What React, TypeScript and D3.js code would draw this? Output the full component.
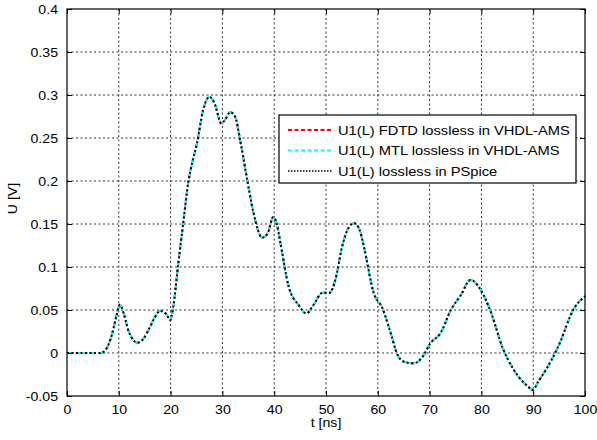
import React, { useEffect, useRef } from "react";
import * as d3 from "d3";

// time [ns] and voltage [V]
const tValues = [
  0, 6.5, 7.5, 8.7, 9.5, 10.2, 11, 11.8, 12.8, 13.6, 14.8, 16, 17, 18, 19.2, 19.9, 20.5, 21.5, 22.4, 23.4,
  24.2, 25.1, 26.3, 27.5, 28.5, 29.8, 30.6, 31.5, 32.5, 33.5, 34.8, 36, 37.7, 38.8, 39.8, 40.5, 41.2, 42.8,
  44.7, 46.2, 47.6, 49.3, 50.7, 51.8, 53.2, 54.3, 55.4, 56.5, 57.3, 59.2, 60.9, 62.5, 63.8, 65, 66.9, 68.7,
  70.1, 72.1, 74.1, 76, 77.9, 79.9, 81.8, 84.1, 86.3, 89, 89.9, 91, 92.8, 94.8, 97.9, 100,
];
const pspice = [
  0, 0, 0.004, 0.022, 0.042, 0.056, 0.045, 0.027, 0.015, 0.012, 0.017, 0.03, 0.042, 0.049, 0.045, 0.038,
  0.053, 0.105, 0.149, 0.198, 0.222, 0.244, 0.283, 0.298, 0.29, 0.267, 0.272, 0.28, 0.274, 0.245, 0.201,
  0.163, 0.134, 0.14, 0.158, 0.15, 0.128, 0.077, 0.056, 0.046, 0.056, 0.07, 0.07, 0.085, 0.126, 0.145,
  0.151, 0.143, 0.124, 0.07, 0.052, 0.023, -0.002, -0.01, -0.012, -0.004, 0.011, 0.023, 0.05, 0.067, 0.085,
  0.073, 0.048, 0.006, -0.02, -0.039, -0.043, -0.033, -0.016, 0.007, 0.052, 0.066,
];
// the three results overlap in the picture
const fdtd = pspice.slice();
const mtl = pspice.slice();

const xTicks = [0, 10, 20, 30, 40, 50, 60, 70, 80, 90, 100];
const yTicks = [-0.05, 0, 0.05, 0.1, 0.15, 0.2, 0.25, 0.3, 0.35, 0.4];
const legendLabels = [
  "U1(L) FDTD lossless in VHDL-AMS",
  "U1(L) MTL lossless in VHDL-AMS",
  "U1(L) lossless in PSpice",
];

const App = () => {
  const ref = useRef<SVGSVGElement>(null);

  useEffect(() => {
    const width = 597,
      height = 440;
    const margin = { top: 9, right: 12, bottom: 44, left: 67 };
    const w = width - margin.left - margin.right,
      h = height - margin.top - margin.bottom;
    const font = "'Liberation Sans', Arial, sans-serif";

    const root = d3.select(ref.current);
    root.selectAll("*").remove();
    const svg = root.append("g").attr("transform", `translate(${margin.left},${margin.top})`);

    const x = d3.scaleLinear().domain([0, 100]).range([0, w]);
    const y = d3.scaleLinear().domain([-0.05, 0.4]).range([h, 0]);

    // grid
    svg
      .append("g")
      .selectAll("line")
      .data(xTicks.slice(1, -1))
      .enter()
      .append("line")
      .attr("x1", (d) => x(d))
      .attr("x2", (d) => x(d))
      .attr("y1", 0)
      .attr("y2", h)
      .attr("stroke", "#000")
      .attr("stroke-width", 0.8)
      .attr("stroke-dasharray", "2,2.5");
    svg
      .append("g")
      .selectAll("line")
      .data(yTicks.slice(1, -1))
      .enter()
      .append("line")
      .attr("x1", 0)
      .attr("x2", w)
      .attr("y1", (d) => y(d))
      .attr("y2", (d) => y(d))
      .attr("stroke", "#000")
      .attr("stroke-width", 0.8)
      .attr("stroke-dasharray", "2,2.5");

    // curves
    const line = d3
      .line<number>()
      .x((d, i) => x(tValues[i]))
      .y((d) => y(d))
      .curve(d3.curveMonotoneX);
    const series = [
      { values: fdtd, color: "#ff0000", dash: "5,3", width: 2 },
      { values: mtl, color: "#00ffff", dash: "5,3", width: 2 },
      { values: pspice, color: "#000000", dash: "2,2.5", width: 2 },
    ];
    series.forEach((s) => {
      svg
        .append("path")
        .datum(s.values)
        .attr("d", line)
        .attr("fill", "none")
        .attr("stroke", s.color)
        .attr("stroke-width", s.width)
        .attr("stroke-dasharray", s.dash);
    });

    // axes (ticks inward, all sides)
    const styleAxis = (g: any) => {
      g.select(".domain").remove();
      g.selectAll("line").attr("stroke", "#000");
      g.selectAll("text").attr("font-family", font).attr("font-size", 12.5).attr("fill", "#000");
    };
    svg
      .append("g")
      .attr("transform", `translate(0,${h})`)
      .call(d3.axisBottom(x).tickValues(xTicks).tickSize(-5).tickPadding(9).tickFormat(d3.format("d")))
      .call(styleAxis);
    svg
      .append("g")
      .call(d3.axisTop(x).tickValues(xTicks).tickSize(-5).tickFormat(() => ""))
      .call(styleAxis);
    svg
      .append("g")
      .call(d3.axisLeft(y).tickValues(yTicks).tickSize(-5).tickPadding(9).tickFormat((d: any) => String(+d.toFixed(2))))
      .call(styleAxis);
    svg
      .append("g")
      .attr("transform", `translate(${w},0)`)
      .call(d3.axisRight(y).tickValues(yTicks).tickSize(-5).tickFormat(() => ""))
      .call(styleAxis);

    svg
      .append("rect")
      .attr("width", w)
      .attr("height", h)
      .attr("fill", "none")
      .attr("stroke", "#000")
      .attr("stroke-width", 1.2);

    // labels
    svg
      .append("text")
      .attr("x", w / 2)
      .attr("y", h + 31)
      .attr("text-anchor", "middle")
      .attr("font-family", font)
      .attr("font-size", 12.5)
      .text("t [ns]");
    svg
      .append("text")
      .attr("transform", `translate(${-50},${h / 2 - 4}) rotate(-90)`)
      .attr("text-anchor", "middle")
      .attr("font-family", font)
      .attr("font-size", 12.5)
      .text("U [V]");

    // legend
    const lg = svg.append("g").attr("transform", `translate(${279 - margin.left},${115 - margin.top})`);
    lg.append("rect")
      .attr("width", 297)
      .attr("height", 68)
      .attr("fill", "#fff")
      .attr("stroke", "#000")
      .attr("stroke-width", 1.2);
    const legendStyle = [
      { color: "#ff0000", dash: "4,2.5", width: 2 },
      { color: "#00ffff", dash: "4,2.5", width: 2 },
      { color: "#000000", dash: "1.5,1.5", width: 1.5 },
    ];
    legendLabels.forEach((label, i) => {
      const cy = 15 + i * 20.5;
      lg.append("line")
        .attr("x1", 9)
        .attr("x2", 53)
        .attr("y1", cy)
        .attr("y2", cy)
        .attr("stroke", legendStyle[i].color)
        .attr("stroke-width", legendStyle[i].width)
        .attr("stroke-dasharray", legendStyle[i].dash);
      lg.append("text")
        .attr("x", 59)
        .attr("y", cy + 4.5)
        .attr("font-family", font)
        .attr("font-size", 13)
        .text(label);
    });

    // the original's text is a little wider than Arial; stretch it
    root.selectAll<SVGTextElement, unknown>("text").each(function () {
      const len = this.getComputedTextLength();
      if (len > 0) {
        d3.select(this).attr("textLength", len * 1.13).attr("lengthAdjust", "spacingAndGlyphs");
      }
    });
  }, []);

  return (
    <svg
      ref={ref}
      width={597}
      height={440}
      style={{ position: "absolute", left: 0, top: 0, background: "#fff" }}
    />
  );
};

export default App;
